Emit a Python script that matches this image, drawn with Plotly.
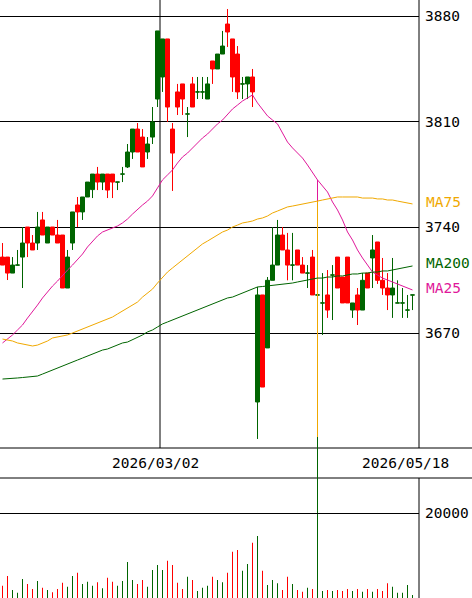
import plotly.graph_objects as go

# ---------------- data ----------------
opens = [3720.3, 3720.3, 3709.7, 3715.0, 3720.3, 3740.2, 3729.6, 3729.6, 3744.9, 3729.6,
         3740.2, 3734.9, 3734.9, 3699.8, 3729.6, 3754.8, 3750.2, 3760.1, 3765.0, 3775.3,
         3770.0, 3775.3, 3775.3, 3770.0, 3775.3, 3780.0, 3789.9, 3805.1, 3799.8, 3789.9,
         3799.8, 3825.0, 3839.6, 3864.8, 3805.1, 3829.7, 3835.0, 3815.1, 3835.0, 3829.7,
         3829.7, 3825.0, 3850.2, 3844.9, 3854.8, 3874.7, 3864.8, 3854.8, 3835.0, 3835.0,
         3839.6, 3624.3, 3695.2, 3660.1, 3704.9, 3715.0, 3734.9, 3725.0, 3715.0, 3725.0,
         3715.0, 3709.7, 3720.3, 3695.2, 3689.9, 3695.2, 3708.4, 3720.3, 3707.1, 3720.3,
         3685.2, 3695.2, 3685.2, 3709.7, 3719.7, 3730.3, 3704.9, 3699.8, 3695.2, 3689.9,
         3689.9, 3685.2, 3695.2]
highs = [3729.6, 3720.3, 3720.3, 3725.0, 3740.2, 3740.2, 3734.9, 3750.2, 3750.2, 3740.2,
         3740.2, 3744.9, 3734.9, 3725.0, 3750.2, 3760.1, 3760.1, 3770.0, 3775.3, 3780.0,
         3775.3, 3775.3, 3775.3, 3770.0, 3780.0, 3795.2, 3805.1, 3809.1, 3805.1, 3799.8,
         3819.7, 3870.1, 3864.8, 3864.8, 3809.1, 3835.0, 3835.0, 3819.7, 3839.6, 3839.6,
         3839.6, 3839.6, 3850.2, 3854.8, 3870.1, 3884.6, 3864.8, 3860.1, 3839.6, 3839.6,
         3844.9, 3700.5, 3695.2, 3707.1, 3740.2, 3744.9, 3740.2, 3736.3, 3736.3, 3725.0,
         3720.3, 3715.0, 3725.0, 3695.2, 3709.7, 3711.7, 3715.0, 3720.3, 3707.1, 3720.3,
         3689.9, 3699.8, 3709.7, 3709.7, 3734.9, 3730.3, 3719.7, 3709.7, 3719.7, 3704.9,
         3699.8, 3695.2, 3695.2]
lows = [3715.0, 3705.1, 3709.7, 3715.0, 3699.8, 3720.3, 3725.0, 3725.0, 3734.9, 3729.6,
        3734.9, 3729.6, 3699.8, 3699.8, 3725.0, 3740.2, 3744.9, 3760.1, 3759.4, 3764.7,
        3764.7, 3759.4, 3759.4, 3764.7, 3770.0, 3779.3, 3785.3, 3789.9, 3780.0, 3785.3,
        3795.2, 3819.7, 3829.7, 3809.8, 3764.1, 3814.4, 3814.4, 3799.8, 3819.7, 3825.0,
        3825.0, 3825.0, 3835.0, 3844.9, 3854.8, 3859.5, 3829.7, 3825.0, 3825.0, 3825.0,
        3819.7, 3599.8, 3634.2, 3660.1, 3704.9, 3715.0, 3725.0, 3704.9, 3704.9, 3715.0,
        3709.7, 3699.8, 3695.2, 3450.0, 3668.7, 3680.0, 3678.6, 3699.8, 3689.9, 3689.9,
        3680.0, 3675.3, 3685.2, 3699.8, 3699.8, 3702.5, 3695.2, 3685.2, 3680.0, 3689.9,
        3680.0, 3680.0, 3685.2]
closes = [3715.0, 3709.7, 3715.0, 3715.0, 3729.6, 3729.6, 3725.0, 3740.2, 3734.9, 3740.2,
          3734.9, 3729.6, 3699.8, 3720.3, 3750.2, 3750.2, 3760.1, 3770.0, 3775.3, 3770.0,
          3775.3, 3764.7, 3770.0, 3770.0, 3775.3, 3789.9, 3805.1, 3789.9, 3780.0, 3795.2,
          3809.8, 3870.1, 3864.8, 3819.7, 3789.2, 3819.7, 3825.0, 3815.1, 3819.7, 3829.7,
          3829.7, 3835.0, 3844.9, 3854.8, 3860.1, 3869.4, 3839.6, 3829.7, 3835.0, 3839.6,
          3829.7, 3695.2, 3634.2, 3704.9, 3715.0, 3734.9, 3725.0, 3715.0, 3715.0, 3715.0,
          3709.7, 3709.7, 3695.2, 3695.2, 3689.9, 3685.2, 3708.4, 3699.8, 3689.9, 3689.9,
          3689.9, 3685.2, 3704.9, 3699.8, 3725.0, 3704.9, 3699.8, 3695.2, 3699.8, 3689.9,
          3689.9, 3685.2, 3695.2]
volumes = [2900, 5190, 1890, 1250, 4490, 3310, 2120, 4010, 2430, 1890,
           1350, 2120, 3610, 2670, 5190, 5970, 3310, 3850, 2900, 3710,
           2290, 4790, 3850, 2900, 4010, 8500, 4250, 3310, 4250, 2670,
           6610, 7790, 6610, 8810, 7790, 3610, 2120, 5030, 4250, 1650,
           2430, 2900, 5030, 4250, 3710, 5970, 10930, 11330, 6450, 8030,
           13060, 14640, 6450, 3070, 4250, 3470, 1890, 5030, 3310, 1890,
           1490, 2430, 2120, 4010, 1650, 1890, 1650, 1890, 1650, 2120,
           1650, 2120, 1490, 2120, 1490, 2120, 1650, 3470, 2670, 1250,
           1250, 3070, 710]
ma25 = [3663.4, 3666.0, 3668.7, 3672.0, 3675.3, 3679.9, 3683.9, 3688.5, 3693.2, 3697.2,
        3701.1, 3704.4, 3708.4, 3711.7, 3715.0, 3718.4, 3722.3, 3727.0, 3730.9, 3734.3,
        3736.9, 3738.2, 3739.6, 3740.9, 3742.9, 3745.5, 3748.8, 3752.1, 3754.8, 3757.4,
        3760.8, 3766.1, 3771.4, 3774.7, 3778.0, 3782.6, 3786.6, 3789.2, 3792.6, 3795.9,
        3799.2, 3801.8, 3805.1, 3808.5, 3811.1, 3814.4, 3818.4, 3821.0, 3823.7, 3825.7,
        3827.7, 3822.4, 3817.7, 3813.8, 3811.1, 3808.5, 3802.5, 3796.5, 3792.6, 3789.2,
        3785.9, 3781.3, 3776.0, 3771.4, 3767.4, 3763.4, 3756.8, 3751.5, 3744.9, 3736.9,
        3731.6, 3725.0, 3719.7, 3715.0, 3710.4, 3708.4, 3706.4, 3705.1, 3703.8, 3702.5,
        3701.1, 3699.8, 3698.5]
ma75 = [3666.0, 3665.4, 3664.7, 3663.4, 3662.7, 3662.0, 3661.4, 3662.0, 3663.4, 3664.7,
        3666.7, 3667.3, 3668.0, 3668.7, 3670.0, 3671.3, 3672.6, 3674.0, 3675.3, 3676.6,
        3678.0, 3679.3, 3680.6, 3682.6, 3684.6, 3686.6, 3688.5, 3690.5, 3693.8, 3696.5,
        3699.1, 3703.1, 3707.1, 3710.4, 3713.1, 3715.7, 3718.4, 3721.0, 3723.7, 3726.3,
        3729.0, 3730.9, 3732.9, 3734.9, 3736.9, 3738.2, 3740.2, 3741.5, 3742.9, 3743.5,
        3744.2, 3745.5, 3746.2, 3747.5, 3749.5, 3750.8, 3752.1, 3753.5, 3754.1, 3754.8,
        3755.5, 3756.1, 3756.8, 3757.4, 3758.1, 3758.8, 3759.4, 3760.1, 3760.1, 3760.1,
        3760.1, 3760.1, 3759.4, 3759.4, 3759.4, 3758.8, 3758.8, 3758.1, 3758.1, 3757.4,
        3756.8, 3756.1, 3755.5]
ma200 = [3639.5, 3639.9, 3640.2, 3640.2, 3640.5, 3640.9, 3640.9, 3641.5, 3642.8, 3644.2,
         3645.5, 3646.8, 3648.1, 3649.5, 3650.8, 3652.1, 3653.4, 3654.8, 3656.1, 3657.4,
         3658.7, 3659.4, 3660.7, 3662.0, 3663.4, 3664.0, 3665.4, 3667.3, 3668.7, 3670.7,
         3672.0, 3674.0, 3676.0, 3677.3, 3678.6, 3679.9, 3681.3, 3682.6, 3683.9, 3685.2,
         3686.6, 3687.9, 3689.2, 3690.5, 3691.9, 3693.2, 3693.8, 3695.2, 3696.5, 3697.8,
         3699.1, 3700.5, 3700.8, 3701.1, 3701.8, 3702.1, 3702.5, 3702.8, 3703.1, 3703.8,
         3704.4, 3705.1, 3705.8, 3706.4, 3706.4, 3707.1, 3707.1, 3707.8, 3707.8, 3708.4,
         3709.1, 3709.1, 3709.7, 3709.7, 3710.4, 3710.4, 3711.1, 3711.1, 3711.7, 3712.4,
         3713.1, 3713.7, 3714.4]
# bad-data day: the moving averages spike down at this index
glitch_idx = 63
ma25_glitch_low = 3625.6
ma75_glitch_low = 3601.1

price_ticks = [3670, 3740, 3810, 3880]
volume_ticks = [20000]
date_labels = ["2026/03/02", "2026/05/18"]
date_label_idx = [32, 82]

# ---------------- styling / geometry ----------------
W, H = 472, 598
PLOT_R = 419            # px, right edge of plot area
MAIN_BOT = 448          # px, bottom of price panel
VOL_TOP = 478           # px, top of volume panel
GREEN = "#006400"
RED = "#ff0000"
C_MA25 = "#e0189a"
C_MA75 = "#f0a800"
C_MA200 = "#006400"
FONT = "DejaVu Sans Mono"
FS = 14.5

ppu = (333 - 16) / (3880 - 3670)          # px per price unit
y_top = 3880 + 16 / ppu
y_bot = 3880 - (H - 16) / ppu
vol_ppu = (H - 513.3) / 20000
vol_top = (H - VOL_TOP) / vol_ppu

N = len(opens)
xs = list(range(N))
is_up = [c >= o for o, c in zip(opens, closes)]

fig = go.Figure()

fig.add_trace(go.Bar(
    x=xs, y=volumes, width=0.2,
    marker=dict(color=[GREEN if u else RED for u in is_up], line=dict(width=0)),
    showlegend=False, hoverinfo="skip", xaxis="x", yaxis="y2"))


def ma_path(vals, low):
    px, py = [], []
    for i, v in enumerate(vals):
        px.append(i)
        py.append(v)
        if i == glitch_idx:
            px += [i, i]
            py += [low, v]
    return px, py


for flag, col in [(True, GREEN), (False, RED)]:
    idx = [i for i in xs if is_up[i] == flag]
    fig.add_trace(go.Candlestick(
        x=idx,
        open=[opens[i] for i in idx], high=[highs[i] for i in idx],
        low=[lows[i] for i in idx], close=[closes[i] for i in idx],
        increasing=dict(line=dict(color=col, width=1), fillcolor=col),
        decreasing=dict(line=dict(color=col, width=1), fillcolor=col),
        whiskerwidth=0, showlegend=False, hoverinfo="skip",
        xaxis="x", yaxis="y"))

for vals, low, col in [(ma25, ma25_glitch_low, C_MA25),
                       (ma75, ma75_glitch_low, C_MA75),
                       (ma200, None, C_MA200)]:
    if low is None:
        px, py = xs, vals
    else:
        px, py = ma_path(vals, low)
    fig.add_trace(go.Scatter(x=px, y=py, mode="lines",
                             line=dict(color=col, width=1),
                             showlegend=False, hoverinfo="skip",
                             xaxis="x", yaxis="y"))

xr = [-0.5, (PLOT_R - 2.5) / 5]
xd = PLOT_R / W

shapes = []
yb = (H - MAIN_BOT) / H
yv = (H - VOL_TOP) / H
for yy in (yb, yv):
    shapes.append(dict(type="line", xref="paper", yref="paper", x0=0, x1=1,
                       y0=yy, y1=yy, line=dict(color="black", width=1), layer="below"))
shapes.append(dict(type="line", xref="paper", yref="paper", x0=xd, x1=xd,
                   y0=yb, y1=1, line=dict(color="black", width=1), layer="below"))
shapes.append(dict(type="line", xref="paper", yref="paper", x0=xd, x1=xd,
                   y0=0, y1=yv, line=dict(color="black", width=1), layer="below"))
shapes.append(dict(type="line", xref="x", yref="paper",
                   x0=date_label_idx[0] - 0.5, x1=date_label_idx[0] - 0.5,
                   y0=yb, y1=1, line=dict(color="black", width=1), layer="below"))

annotations = []
for lab, i in zip(date_labels, date_label_idx):
    annotations.append(dict(x=i - 0.5, xref="x", y=(H - 463) / H, yref="paper",
                            text=lab, showarrow=False, xanchor="center",
                            yanchor="middle", xshift=-5,
                            font=dict(family=FONT, size=FS, color="black")))
for name, vals, col, ysh in [("MA75", ma75, C_MA75, 2),
                             ("MA200", ma200, C_MA200, 3),
                             ("MA25", ma25, C_MA25, 2)]:
    annotations.append(dict(x=424 / W, xref="paper", y=vals[-1], yref="y",
                            text=name, showarrow=False, xanchor="left",
                            yanchor="middle", yshift=ysh,
                            font=dict(family=FONT, size=FS, color=col)))

fig.update_layout(
    width=W, height=H,
    margin=dict(l=0, r=0, t=0, b=0),
    paper_bgcolor="white", plot_bgcolor="rgba(0,0,0,0)",
    boxgap=0.2, boxgroupgap=0,
    showlegend=False,
    xaxis=dict(domain=[0, xd], range=xr, showgrid=False, zeroline=False,
               showticklabels=False, ticks="", showline=False,
               rangeslider=dict(visible=False), fixedrange=True),
    yaxis=dict(domain=[0, 1], range=[y_bot, y_top], side="right",
               tickvals=price_ticks, ticktext=[str(v) for v in price_ticks],
               showgrid=True, gridcolor="black", gridwidth=1, zeroline=False,
               ticks="", showline=False, ticklabelstandoff=5,
               tickfont=dict(family=FONT, size=FS, color="black"), fixedrange=True),
    yaxis2=dict(domain=[0, yv], range=[0, vol_top], side="right", anchor="x",
                tickvals=volume_ticks, ticktext=[str(v) for v in volume_ticks],
                showgrid=True, gridcolor="black", gridwidth=1, zeroline=False,
                ticks="", showline=False, ticklabelstandoff=5,
                tickfont=dict(family=FONT, size=FS, color="black"), fixedrange=True),
    shapes=shapes, annotations=annotations,
)

fig.write_html("out.html",
               config={"displayModeBar": False, "staticPlot": True},
               post_script="document.body.style.margin='0';"
                           "document.body.style.padding='0';")
